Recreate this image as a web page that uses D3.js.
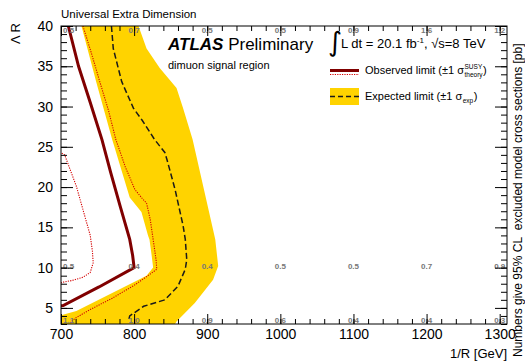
<!DOCTYPE html>
<html>
<head>
<meta charset="utf-8">
<script src="https://cdn.jsdelivr.net/npm/d3@7"></script>
<style>
  body { margin: 0; background: #fff; }
  svg { font-family: "Liberation Sans", Arial, sans-serif; }
</style>
</head>
<body>
<svg id="chart" width="525" height="362"></svg>
<script>
// ---- data: [1/R in GeV, Lambda R]
const observed = [[710, 40], [724, 35], [740, 30.5], [756, 25.9], [768, 21.8], [781, 17.6], [794, 13.5],
  [798, 11.5], [800, 10.0], [752, 7.6], [703, 5.3], [695, 5.2]];
const obsPlus = [[730, 40], [742, 36.5], [753, 33.1], [765, 29.5], [775, 25.9], [788, 22.5], [801, 19.7],
  [811, 18.6], [817, 18], [822, 16], [826, 13.5], [830, 11], [831, 9.8], [822, 9.2], [800, 7.8],
  [770, 6.2], [740, 4.8], [721, 3.8], [714, 3.3], [712, 3]];
const obsMinus = [[701, 24.2], [705, 24.0], [721, 20.1], [740, 14], [743, 12], [744, 10.6], [740, 9.4],
  [730, 8.8], [715, 8.4], [703, 8.2], [700, 8.1]];
const expected = [[769, 40], [771.5, 37.2], [783, 33.1], [799, 29.8], [811, 28.3], [828, 25.9], [842, 24.3],
  [845, 23.4], [856, 19.7], [867, 15.2], [870, 13.5], [872, 11], [870, 9.8], [860, 7.7], [842, 6],
  [813, 5.2], [794, 4], [792, 3.3]];
const expMinus = [[728, 40], [748, 33.1], [770, 25.9], [794, 18.7], [810, 16.9], [819, 14], [821, 13.5],
  [824, 11.5], [826, 10], [817, 9], [721, 4.6], [700, 4.1]];
const expPlus = [[806, 40], [817, 37.2], [835, 34.8], [858, 32.3], [867, 29.8], [880, 25.9], [908, 14.7],
  [911, 13.5], [915, 10.2], [908, 8.5], [883, 5.6], [858, 3.3], [856, 3]];

// grey numbers printed on the grid
const numX = [700, 800, 900, 1000, 1100, 1200, 1300];
const numTop = ["0.5", "0.7", "0.5", "0.5", "0.9", "1.6", "1.2"];
const numMid = ["0.5", "0.4", "0.4", "0.5", "0.5", "0.7", "0.9"];
const numBot = ["1.1", "1.0", "0.9", "0.6", "0.4", "0.4", "0.3"];
const numRows = [{ y: 40, vals: numTop, dy: 4 }, { y: 10, vals: numMid, dy: -1 }, { y: 3, vals: numBot, dy: -4 }];

const xTicks = [700, 800, 900, 1000, 1100, 1200, 1300];
const yTicks = [5, 10, 15, 20, 25, 30, 35, 40];

const mLeft = 61, mRight = 507, mTop = 26, mBottom = 324;
const svg = d3.select("#chart");

const x = d3.scaleLinear().domain([700, 1310]).range([mLeft, mRight]);
const y = d3.scaleLinear().domain([3, 40]).range([mBottom, mTop]);

svg.append("defs").append("clipPath").attr("id", "clip")
  .append("rect").attr("x", mLeft).attr("y", mTop).attr("width", mRight - mLeft).attr("height", mBottom - mTop);
const plot = svg.append("g").attr("clip-path", "url(#clip)");

const line = d3.line().x(d => x(d[0])).y(d => y(d[1]));

// yellow band: left edge down, along the bottom, right edge up
const band = expMinus.concat([[700, 3], [856, 3]], expPlus.slice().reverse());
plot.append("path").attr("d", line(band) + "Z").attr("fill", "#ffd300");

plot.append("path").attr("d", line(expected)).attr("fill", "none")
  .attr("stroke", "#1a1a1a").attr("stroke-width", 1.5).attr("stroke-dasharray", "6,3");

[obsPlus, obsMinus].forEach(d => {
  plot.append("path").attr("d", line(d)).attr("fill", "none")
    .attr("stroke", "#d40000").attr("stroke-width", 1.1).attr("stroke-dasharray", "1.2,1.2");
});

plot.append("path").attr("d", line(observed)).attr("fill", "none")
  .attr("stroke", "#800000").attr("stroke-width", 3);

// numbers
numRows.forEach(r => {
  svg.append("g").selectAll("text").data(r.vals).join("text")
    .attr("x", (d, i) => x(numX[i]) + (i === 0 ? 2 : 0))
    .attr("y", y(r.y) + r.dy)
    .attr("dy", "0.35em")
    .attr("text-anchor", (d, i) => i === 0 ? "start" : "middle")
    .attr("font-size", 8).attr("font-weight", "bold").attr("fill", "#777")
    .text(d => d);
});

// axes
function clean(g) { g.select(".domain").remove(); g.selectAll("line").attr("stroke", "#000"); }
const minorX = d3.range(700, 1311, 20), minorY = d3.range(3, 41, 1);

svg.append("g").attr("transform", `translate(0,${mBottom})`)
  .call(d3.axisBottom(x).tickValues(xTicks).tickSize(-10).tickPadding(5).tickFormat(d3.format("d")))
  .call(clean).call(g => g.selectAll("text").attr("font-size", 14).attr("fill", "#000")
    .attr("font-family", "Liberation Sans, Arial, sans-serif"));
svg.append("g").attr("transform", `translate(0,${mBottom})`)
  .call(d3.axisBottom(x).tickValues(minorX).tickSize(-5).tickFormat("")).call(clean);
svg.append("g").attr("transform", `translate(0,${mTop})`)
  .call(d3.axisTop(x).tickValues(xTicks).tickSize(-10).tickFormat("")).call(clean);
svg.append("g").attr("transform", `translate(0,${mTop})`)
  .call(d3.axisTop(x).tickValues(minorX).tickSize(-5).tickFormat("")).call(clean);

svg.append("g").attr("transform", `translate(${mLeft},0)`)
  .call(d3.axisLeft(y).tickValues(yTicks).tickSize(-12).tickPadding(8))
  .call(clean).call(g => g.selectAll("text").attr("font-size", 14).attr("fill", "#000")
    .attr("font-family", "Liberation Sans, Arial, sans-serif"));
svg.append("g").attr("transform", `translate(${mLeft},0)`)
  .call(d3.axisLeft(y).tickValues(minorY).tickSize(-6).tickFormat("")).call(clean);
svg.append("g").attr("transform", `translate(${mRight},0)`)
  .call(d3.axisRight(y).tickValues(yTicks).tickSize(-12).tickFormat("")).call(clean);
svg.append("g").attr("transform", `translate(${mRight},0)`)
  .call(d3.axisRight(y).tickValues(minorY).tickSize(-6).tickFormat("")).call(clean);

svg.append("rect").attr("x", mLeft).attr("y", mTop).attr("width", mRight - mLeft).attr("height", mBottom - mTop)
  .attr("fill", "none").attr("stroke", "#000").attr("stroke-width", 1);

// titles
svg.append("text").attr("x", mRight).attr("y", 358).attr("text-anchor", "end")
  .attr("font-size", 13).text("1/R [GeV]");
svg.append("text").attr("transform", "translate(20,23) rotate(-90)").attr("text-anchor", "end")
  .attr("font-size", 13).text("Λ R");
svg.append("text").attr("transform", "translate(522,357) rotate(-90)").attr("text-anchor", "start")
  .attr("font-size", 12).text("Numbers give 95% CL\u00a0\u00a0excluded model cross sections [pb]");
svg.append("text").attr("x", 61).attr("y", 18).attr("font-size", 11.5).text("Universal Extra Dimension");

const atlas = svg.append("text").attr("x", 168).attr("y", 50).attr("font-size", 17);
atlas.append("tspan").attr("font-weight", "bold").attr("font-style", "italic").text("ATLAS");
atlas.append("tspan").text(" Preliminary");
svg.append("text").attr("x", 168).attr("y", 69).attr("font-size", 11).text("dimuon signal region");

svg.append("text").attr("x", 328).attr("y", 51).attr("font-size", 27).attr("font-family", "DejaVu Sans")
  .text("∫");
const lumi = svg.append("text").attr("x", 341).attr("y", 48).attr("font-size", 13);
lumi.append("tspan").text("L dt = 20.1 fb");
lumi.append("tspan").attr("dy", -5).attr("font-size", 8).text("-1");
lumi.append("tspan").attr("dy", 5).text(", √s=8 TeV");

// legend
svg.append("line").attr("x1", 330).attr("x2", 359).attr("y1", 70.5).attr("y2", 70.5)
  .attr("stroke", "#800000").attr("stroke-width", 3);
svg.append("line").attr("x1", 330).attr("x2", 359).attr("y1", 74.5).attr("y2", 74.5)
  .attr("stroke", "#d40000").attr("stroke-width", 1.1).attr("stroke-dasharray", "1.2,1.2");
svg.append("rect").attr("x", 330).attr("y", 88).attr("width", 29).attr("height", 17).attr("fill", "#ffd300");
svg.append("line").attr("x1", 330).attr("x2", 359).attr("y1", 96.5).attr("y2", 96.5)
  .attr("stroke", "#1a1a1a").attr("stroke-width", 1.5).attr("stroke-dasharray", "5,3");

function legendText(yb, main, sup, sub) {
  const t = svg.append("text").attr("x", 365).attr("y", yb).attr("font-size", 11).text(main);
  const w = t.node().getComputedTextLength();
  let sw = 0;
  if (sup) {
    const s = svg.append("text").attr("x", 365 + w + 0.5).attr("y", yb - 5).attr("font-size", 6.5).text(sup);
    sw = s.node().getComputedTextLength();
  }
  const b = svg.append("text").attr("x", 365 + w + 0.5).attr("y", yb + 3).attr("font-size", 6.5).text(sub);
  sw = Math.max(sw, b.node().getComputedTextLength());
  svg.append("text").attr("x", 365 + w + sw + 1).attr("y", yb).attr("font-size", 11).text(")");
}
legendText(74, "Observed limit (±1 σ", "SUSY", "theory");
legendText(100, "Expected limit (±1 σ", null, "exp");
</script>
</body>
</html>
